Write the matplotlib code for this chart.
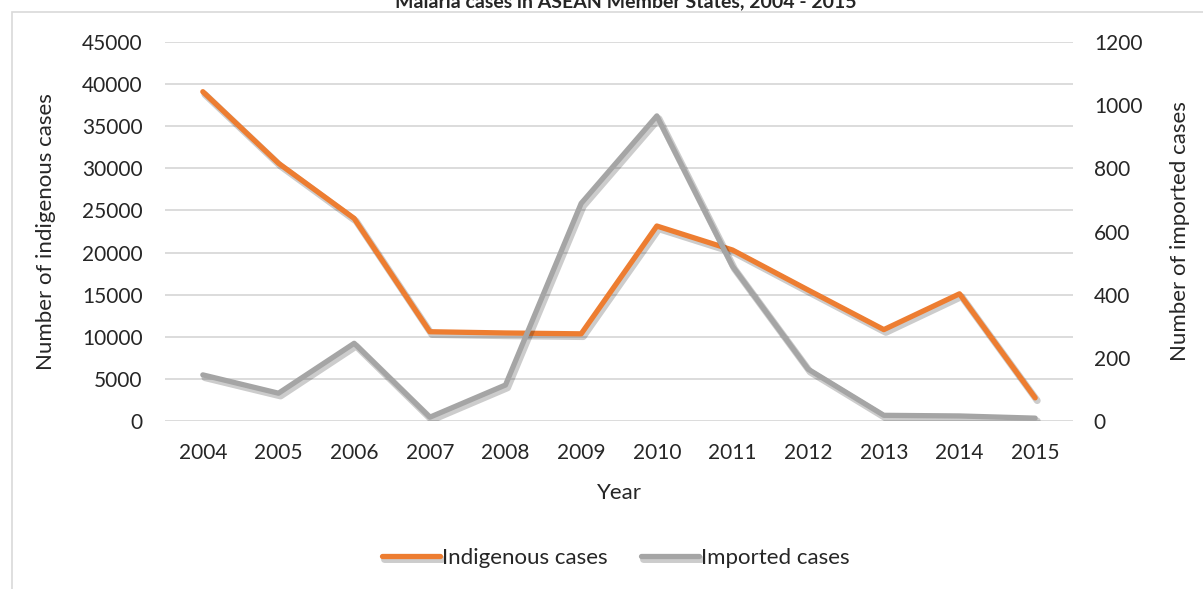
import numpy as np
import matplotlib
matplotlib.use("Agg")
import matplotlib.pyplot as plt
import matplotlib.patheffects as pe
from matplotlib.patches import Rectangle

plt.rcParams['font.family'] = ['Lato', 'DejaVu Sans']

# Malaria cases by year
years = ['2004', '2005', '2006', '2007', '2008', '2009',
         '2010', '2011', '2012', '2013', '2014', '2015']
indigenous = [39100, 30600, 24050, 10600, 10450, 10350,
              23150, 20300, 15550, 10850, 15100, 2750]
imported = [146, 88, 246, 12, 114, 689,
            966, 490, 164, 18, 16, 9]

ORANGE = '#ED7D31'
GREY = '#A5A5A5'
TEXT = '#262626'

fig = plt.figure(figsize=(12.03, 5.89), dpi=100)

# chart frame, cropped on the right and bottom
fig.patches.append(Rectangle((12 / 1203, -0.1), 1.2, 1 - 12 / 589 + 0.1,
                             transform=fig.transFigure, fill=False,
                             edgecolor='#d9d9d9', linewidth=1.2))

fig.text(0.52, 1 - 7 / 589, 'Malaria cases in ASEAN Member States, 2004 - 2015',
         ha='center', va='baseline', fontsize=14, fontweight='bold', color=TEXT)

ax = fig.add_axes([165 / 1203, 1 - 421 / 589, (1073 - 165) / 1203, (421 - 42) / 589])
ax2 = ax.twinx()

x = np.arange(len(years))
shadow = [pe.SimpleLineShadow(offset=(1.5, -2), shadow_color='k', alpha=0.2, linewidth=5),
          pe.Normal()]

l1, = ax.plot(x, indigenous, color=ORANGE, lw=3.8, solid_capstyle='round',
              solid_joinstyle='round', label='Indigenous cases', path_effects=shadow, zorder=3)
l2, = ax2.plot(x, imported, color=GREY, lw=3.8, solid_capstyle='round',
               solid_joinstyle='round', label='Imported cases', path_effects=shadow, zorder=3)

ax.set_xlim(-0.5, len(years) - 0.5)
ax.set_ylim(0, 45000)
ax.set_yticks(np.arange(0, 45001, 5000))
ax2.set_ylim(0, 1200)
ax2.set_yticks(np.arange(0, 1201, 200))
ax.set_xticks(x)
ax.set_xticklabels(years)

ax.grid(axis='y', color='#d9d9d9', linewidth=1.3)
ax.set_axisbelow(True)
for a in (ax, ax2):
    for s in a.spines.values():
        s.set_visible(False)
    a.tick_params(length=0, labelsize=15, colors=TEXT)
ax.tick_params(axis='y', pad=16)
ax.tick_params(axis='x', pad=16)
ax2.tick_params(axis='y', pad=15)

ax.set_ylabel('Number of indigenous cases', fontsize=16, color=TEXT, labelpad=19)
ax2.set_ylabel('Number of imported cases', fontsize=16, color=TEXT, labelpad=20)
ax.set_xlabel('Year', fontsize=16, color=TEXT, labelpad=14)

fig.legend(handles=[l1, l2], loc='center', bbox_to_anchor=(0.512, 1 - 558 / 589),
           ncol=2, frameon=False, fontsize=16, handlelength=2.6, handletextpad=0.1,
           columnspacing=1.5, labelcolor=TEXT)

fig.savefig('out.png', dpi=100)
